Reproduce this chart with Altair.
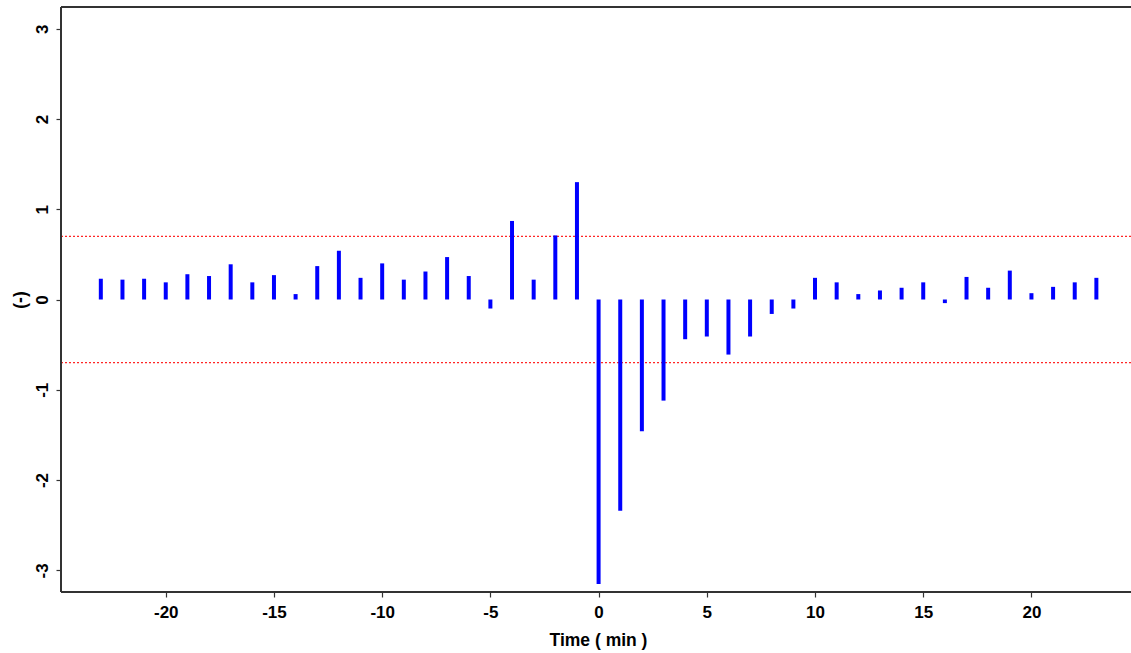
import altair as alt
import pandas as pd

lags = list(range(-23, 24))
values = [0.23, 0.22, 0.23, 0.19, 0.28, 0.26, 0.39, 0.19, 0.27, 0.06,
          0.37, 0.54, 0.24, 0.40, 0.22, 0.31, 0.47, 0.26, -0.10, 0.87,
          0.22, 0.71, 1.30, -3.15, -2.34, -1.46, -1.12, -0.44, -0.41, -0.61,
          -0.41, -0.16, -0.10, 0.24, 0.19, 0.06, 0.10, 0.13, 0.19, -0.04,
          0.25, 0.13, 0.32, 0.07, 0.14, 0.19, 0.24]
thresholds = [0.7, -0.7]
x_ticks = [-20, -15, -10, -5, 0, 5, 10, 15, 20]
y_ticks = [-3, -2, -1, 0, 1, 2, 3]

df = pd.DataFrame({"lag": lags, "value": values})
thr = pd.DataFrame({"t": thresholds})

W, H = 1070, 585
FONT = "Liberation Sans"

xscale = alt.Scale(domain=[-24.84, 24.6], nice=False, zero=False)
yscale = alt.Scale(domain=[-3.24, 3.24], nice=False, zero=False)

xaxis = alt.Axis(values=x_ticks, labelExpr="toString(datum.value)", title="Time ( min )",
                 grid=False, domain=False,
                 tickSize=5, tickColor="#333333", tickWidth=1.2,
                 labelFont=FONT, labelFontSize=17, labelFontWeight="bold", labelColor="black",
                 labelPadding=7, labelFlush=False,
                 titleFont=FONT, titleFontSize=17.5, titleFontWeight="bold", titleColor="black",
                 titleY=48, titleX=W / 2 + 2, titleBaseline="middle")
yaxis = alt.Axis(values=y_ticks, labelExpr="toString(datum.value)", title="(-)",
                 grid=False, domain=False,
                 tickSize=5, tickColor="#333333", tickWidth=1.2,
                 labelFont=FONT, labelFontSize=17, labelFontWeight="bold", labelColor="black",
                 labelAngle=270, labelAlign="center", labelBaseline="bottom", labelPadding=5,
                 labelFlush=False,
                 titleFont=FONT, titleFontSize=17.5, titleFontWeight="bold", titleColor="black",
                 titleAngle=270, titleX=-41, titleY=H / 2, titleAlign="center", titleBaseline="middle")

bars = alt.Chart(df).mark_rule(color="#0000ff", strokeWidth=4, strokeCap="butt").encode(
    x=alt.X("lag:Q", scale=xscale, axis=xaxis),
    y=alt.Y("value:Q", scale=yscale, axis=yaxis),
    y2=alt.datum(0),
)

redlines = alt.Chart(thr).mark_rule(color="#ff0000", strokeWidth=1.3, strokeDash=[2, 2], opacity=0.85).encode(
    y=alt.Y("t:Q", scale=yscale)
)

frame_color = "#333333"
left = alt.Chart(df).mark_rule(color=frame_color, strokeWidth=1.5).encode(
    x=alt.value(0), y=alt.value(0), y2=alt.value(H))
top = alt.Chart(df).mark_rule(color=frame_color, strokeWidth=1.5).encode(
    y=alt.value(0), x=alt.value(0), x2=alt.value(W))
bottom = alt.Chart(df).mark_rule(color=frame_color, strokeWidth=1.5).encode(
    y=alt.value(H), x=alt.value(0), x2=alt.value(W))

chart = alt.layer(redlines, bars, left, top, bottom).properties(
    width=W, height=H,
    autosize=alt.AutoSizeParams(type="none"),
    padding={"left": 61, "top": 7, "right": 0, "bottom": 61},
    background="white",
).configure_view(stroke=None)

chart.save("out.html", embed_options={"renderer": "svg", "actions": False})
